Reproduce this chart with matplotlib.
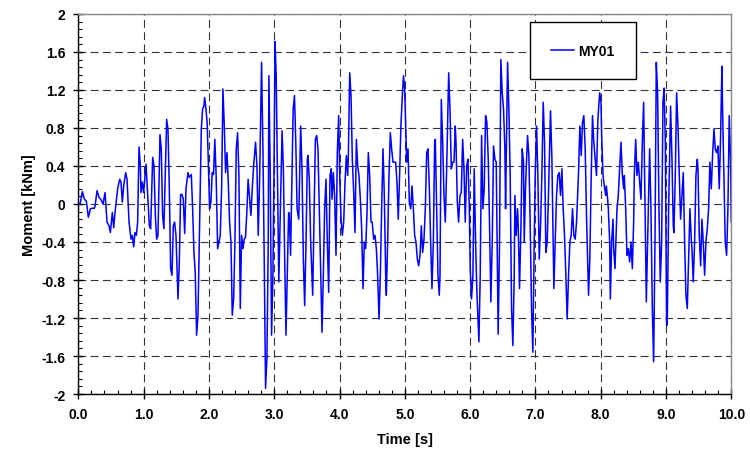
import matplotlib
matplotlib.use("Agg")
import matplotlib.pyplot as plt
from matplotlib.ticker import MultipleLocator

# values (peaks / troughs of the trace)
time_s = [
    0.0, 0.026, 0.061, 0.092, 0.122, 0.153, 0.184, 0.214, 0.245, 0.255,
    0.286, 0.316, 0.347, 0.378, 0.408, 0.439, 0.469, 0.49, 0.52, 0.541,
    0.561, 0.602, 0.633, 0.653, 0.673, 0.694, 0.724, 0.745, 0.776, 0.806,
    0.827, 0.847, 0.867, 0.888, 0.908, 0.929, 0.949, 0.959, 0.98, 1.0,
    1.036, 1.087, 1.107, 1.138, 1.158, 1.179, 1.199, 1.219, 1.25, 1.27,
    1.29, 1.31, 1.33, 1.352, 1.372, 1.393, 1.413, 1.434, 1.454, 1.474,
    1.495, 1.526, 1.546, 1.566, 1.587, 1.607, 1.628, 1.648, 1.679, 1.699,
    1.73, 1.75, 1.77, 1.79, 1.811, 1.832, 1.862, 1.883, 1.903, 1.923,
    1.934, 1.954, 1.972, 1.988,
    2.01, 2.03, 2.05, 2.07, 2.09, 2.11, 2.133, 2.153, 2.173, 2.194,
    2.214, 2.235, 2.255, 2.276, 2.296, 2.316, 2.337, 2.357, 2.378, 2.398,
    2.418, 2.439, 2.459, 2.48, 2.5, 2.52, 2.54, 2.56, 2.58, 2.6,
    2.62, 2.643, 2.663, 2.684, 2.714, 2.735, 2.755, 2.776, 2.806, 2.827,
    2.847, 2.867, 2.888, 2.908, 2.918, 2.939, 2.959, 2.98, 3.0, 3.012,
    3.03, 3.05, 3.07, 3.09, 3.11, 3.12, 3.14, 3.16, 3.18, 3.2,
    3.22, 3.23, 3.25, 3.27, 3.29, 3.31, 3.33, 3.35, 3.375, 3.395,
    3.405, 3.425, 3.446, 3.466, 3.487, 3.507, 3.518, 3.538, 3.558, 3.589,
    3.609, 3.63, 3.65, 3.67, 3.69, 3.711, 3.732, 3.752, 3.772, 3.793,
    3.813, 3.834, 3.854, 3.874, 3.885, 3.905, 3.925, 3.946, 3.966, 3.987,
    4.003, 4.023, 4.043, 4.064, 4.084, 4.105, 4.125, 4.135, 4.156, 4.176,
    4.196, 4.217, 4.237, 4.258, 4.278, 4.298, 4.319, 4.339, 4.36, 4.38,
    4.4, 4.42, 4.441, 4.462, 4.482, 4.5, 4.523, 4.543, 4.564, 4.584,
    4.605, 4.625, 4.645, 4.666, 4.686, 4.707, 4.717, 4.737, 4.758, 4.778,
    4.798, 4.819, 4.839, 4.86, 4.88, 4.9, 4.92, 4.94, 4.962, 4.98,
    4.998, 5.018, 5.029, 5.049, 5.069, 5.09, 5.11, 5.131, 5.151, 5.171,
    5.192, 5.212, 5.233, 5.253, 5.273, 5.294, 5.314, 5.335, 5.355, 5.376,
    5.396, 5.416, 5.437, 5.457, 5.467, 5.488, 5.508, 5.528, 5.539, 5.559,
    5.58, 5.6, 5.62, 5.641, 5.672, 5.692, 5.712, 5.733, 5.753, 5.773,
    5.784, 5.804, 5.824, 5.845, 5.865, 5.886, 5.906, 5.926, 5.947, 5.967,
    5.988,
    6.002, 6.022, 6.043, 6.063, 6.084, 6.104, 6.135, 6.155, 6.176, 6.196,
    6.216, 6.237, 6.257, 6.278, 6.298, 6.318, 6.339, 6.359, 6.38, 6.4,
    6.42, 6.43, 6.451, 6.471, 6.492, 6.512, 6.533, 6.543, 6.563, 6.574,
    6.594, 6.614, 6.635, 6.655, 6.676, 6.686, 6.706, 6.727, 6.737, 6.757,
    6.778, 6.798, 6.818, 6.829, 6.849, 6.88, 6.9, 6.92, 6.941, 6.961,
    6.982, 6.997,
    7.018, 7.038, 7.059, 7.079, 7.099, 7.12, 7.14, 7.16, 7.181, 7.2,
    7.232, 7.253, 7.273, 7.283, 7.304, 7.324, 7.344, 7.365, 7.385, 7.406,
    7.426, 7.446, 7.467, 7.487, 7.508, 7.528, 7.548, 7.569, 7.589, 7.61,
    7.63, 7.661, 7.681, 7.702, 7.722, 7.742, 7.763, 7.783, 7.814, 7.834,
    7.855, 7.875, 7.895, 7.916, 7.936, 7.957, 7.985,
    8.005, 8.015, 8.036, 8.056, 8.077, 8.087, 8.107, 8.117, 8.138, 8.148,
    8.168, 8.189, 8.199, 8.219, 8.24, 8.25, 8.27, 8.291, 8.311, 8.332,
    8.352, 8.362, 8.383, 8.403, 8.423, 8.444, 8.464, 8.485, 8.505, 8.515,
    8.536, 8.556, 8.577, 8.597, 8.617, 8.638, 8.658, 8.679, 8.699, 8.719,
    8.74, 8.75, 8.77, 8.791, 8.811, 8.832, 8.852, 8.872, 8.893, 8.913,
    8.934, 8.954, 8.972, 8.99,
    9.0, 9.01, 9.02, 9.041, 9.061, 9.071, 9.092, 9.112, 9.122, 9.143,
    9.163, 9.184, 9.204, 9.224, 9.245, 9.265, 9.286, 9.306, 9.327, 9.347,
    9.367, 9.388, 9.398, 9.418, 9.439, 9.459, 9.48, 9.49, 9.51, 9.531,
    9.551, 9.571, 9.592, 9.612, 9.633, 9.653, 9.673, 9.694, 9.714, 9.735,
    9.755, 9.776, 9.796, 9.816, 9.837, 9.857, 9.867, 9.888, 9.908, 9.929,
    9.949, 9.969, 9.99, 10.0,
]

moment_knm = [
    0.0, 0.0, 0.13, 0.05, 0.03, -0.14, -0.05, -0.045, -0.045, -0.025,
    0.14, 0.07, 0.045, 0.0, 0.12, -0.19, -0.23, -0.3, -0.09, -0.25,
    -0.09, 0.16, 0.26, 0.23, 0.02, 0.19, 0.33, 0.26, -0.19, -0.37,
    -0.33, -0.45, -0.3, -0.33, -0.19, 0.6, 0.4, 0.12, 0.23, 0.12,
    0.42, -0.23, -0.26, 0.49, 0.40, -0.12, -0.37, -0.33, 0.73, 0.58,
    -0.12, -0.26, 0.30, 0.89, 0.79, 0.16, -0.68, -0.75, -0.23, -0.19,
    -0.33, -1.0, -0.61, 0.1, 0.1, 0.05, -0.31, 0.16, 0.33, 0.28,
    0.31, -0.05, -0.51, -0.72, -1.38, -1.17, 0.02, 0.79, 1.0, 1.03,
    1.12, 1.0, 0.86, 0.5,
    -0.05, 0.02, 0.33, 0.31, 0.68, 0.30, -0.47, -0.40, -0.33, 0.16,
    1.21, 0.82, 0.33, 0.54, 0.23, -0.19, -0.40, -1.17, -1.0, -0.40,
    0.58, 0.75, 0.30, -1.10, -0.33, -0.47, -0.37, -0.35, -0.09, 0.26,
    0.09, -0.12, 0.16, 0.40, 0.65, 0.40, -0.33, 0.26, 1.49, 0.58,
    -0.61, -1.94, -1.63, -0.40, 1.35, 0.30, -1.38, -0.75, 0.65, 1.71,
    1.35, 0.30, -0.82, -0.19, 0.40, 0.77, 0.37, -0.58, -1.38, -0.75,
    -0.09, -0.1, -0.54, 0.23, 1.0, 1.14, 0.65, -0.05, -0.16, 0.47,
    0.82, 0.37, -0.58, -1.07, -0.40, 0.47, 0.51, 0.23, -0.40, -0.96,
    -0.19, 0.68, 0.72, 0.58, -0.05, -0.72, -1.35, -0.75, -0.05, 0.26,
    -0.40, -0.93, 0.30, 0.37, 0.05, 0.33, 0.09, -0.54, 0.54, 0.93,
    0.30, -0.16, -0.33, -0.19, 0.23, 0.51, 0.30, 0.51, 1.38, 1.14,
    0.47, 0.12, -0.30, 0.68, 0.40, 0.30, 0.05, -0.26, -0.89, -0.40,
    -0.47, -0.12, 0.54, 0.30, -0.19, -0.19, -0.37, -0.33, -0.47, -0.75,
    -1.21, -0.75, -0.05, 0.58, 0.09, -0.75, -0.96, -0.40, 0.30, 0.75,
    0.58, 0.44, 0.44, 0.44, 0.23, -0.16, 0.30, 0.82, 1.14, 1.35,
    1.21, 0.72, 0.44, 0.58, 0.02, -0.05, 0.19, -0.05, -0.33, -0.40,
    -0.58, -0.65, -0.54, -0.23, -0.51, -0.37, -0.05, 0.54, 0.58, 0.16,
    -0.40, -0.89, -0.40, 0.65, 0.68, -0.05, -0.75, -0.96, -0.75, 1.10,
    0.65, 0.09, -0.19, 0.37, 1.38, 1.0, 0.37, 0.44, 0.44, 0.82,
    0.65, 0.02, -0.19, 0.09, 0.12, 0.68, 0.37, -0.19, 0.40, 0.47,
    -0.05,
    -0.68, -1.0, -0.75, 0.37, -0.40, -0.93, -1.45, -0.75, 0.72, -0.05,
    0.16, 0.93, 0.86, 0.47, -0.23, -1.03, -0.40, 0.61, 0.47, 0.44,
    -0.75, -1.37, -0.40, 1.52, 1.17, 1.0, 0.58, -0.05, 1.0, 1.49,
    1.0, 0.30, -1.10, -1.49, -0.75, 0.09, -0.33, -0.05, -0.23, -0.89,
    -0.26, 0.58, 0.44, -0.40, 0.19, 0.72, 0.51, -0.19, -1.10, -1.56,
    -0.40, 0.30,
    0.82, 0.30, -0.58, -0.23, 0.30, 1.07, 0.65, -0.51, -0.40, 0.09,
    0.98, 0.47, -0.40, -0.89, -0.40, 0.09, 0.30, 0.33, 0.09, 0.37,
    -0.05, -0.33, -0.75, -1.21, -0.75, -0.40, -0.33, -0.05, -0.33, -0.37,
    -0.19, 0.33, 0.82, 0.51, 0.86, 0.93, 0.58, -0.12, -0.96, -0.58,
    0.30, 0.93, 0.65, 0.47, 0.30, 0.89, 1.17,
    1.07, 0.72, 0.30, 0.19, 0.09, 0.19, 0.05, -0.05, -0.40, -1.0,
    -0.40, -0.16, -0.47, -0.68, -0.23, -0.05, 0.09, 0.37, 0.65, 0.30,
    0.16, 0.30, -0.05, -0.54, -0.47, -0.61, -0.40, -0.68, -0.19, 0.30,
    0.68, 0.30, 0.44, 0.23, 0.05, 0.65, 1.07, -0.05, -1.03, -0.40,
    0.30, 0.58, -0.05, -1.10, -1.66, -0.40, 1.49, 1.17, -0.05, -0.82,
    -0.40, 1.07, 1.22, 0.65,
    -0.40, -1.28, -1.24, -0.05, 0.65, 1.03, 0.47, -0.23, -0.30, 0.30,
    1.17, 0.82, 0.30, -0.16, 0.09, 0.33, -0.40, -0.96, -1.10, -0.58,
    -0.05, -0.37, -0.47, -0.82, -0.40, 0.30, 0.47, 0.37, -0.33, -0.65,
    -0.16, -0.40, -0.75, -0.40, -0.26, -0.05, 0.44, 0.16, 0.51, 0.79,
    0.58, 0.54, 0.61, 0.16, 0.72, 1.45, 1.0, 0.30, -0.40, -0.54,
    -0.05, 0.93, 0.44, -0.19,
]

x_ticks = [0, 1, 2, 3, 4, 5, 6, 7, 8, 9, 10]
x_tick_labels = ["0.0", "1.0", "2.0", "3.0", "4.0", "5.0",
                 "6.0", "7.0", "8.0", "9.0", "10.0"]
y_ticks = [-2, -1.6, -1.2, -0.8, -0.4, 0, 0.4, 0.8, 1.2, 1.6, 2]
y_tick_labels = ["-2", "-1.6", "-1.2", "-0.8", "-0.4", "0",
                 "0.4", "0.8", "1.2", "1.6", "2"]
series_name = "MY01"

plt.rcParams["font.family"] = ["Liberation Sans Narrow", "Liberation Sans", "DejaVu Sans"]
plt.rcParams["font.weight"] = "bold"

fig = plt.figure(figsize=(7.5, 4.52), dpi=100)
ax = fig.add_axes([0.1045, 0.126, 0.8705, 0.841])

ax.plot(time_s, moment_knm, color="#0000ff", lw=1.1, label=series_name)

ax.set_xlim(0, 10)
ax.set_ylim(-2, 2)
ax.set_xticks(x_ticks)
ax.set_xticklabels(x_tick_labels)
ax.set_yticks(y_ticks)
ax.set_yticklabels(y_tick_labels)
ax.xaxis.set_minor_locator(MultipleLocator(0.2))
ax.yaxis.set_minor_locator(MultipleLocator(0.08))

ax.tick_params(which="major", direction="inout", length=7, width=1,
               labelsize=10, pad=6)
ax.tick_params(which="minor", direction="in", length=3, width=0.8)

ax.grid(which="major", color="#333333", lw=0.8, linestyle=(0, (7, 4)))

for side in ["left", "bottom"]:
    ax.spines[side].set_color("black")
    ax.spines[side].set_linewidth(1)
for side in ["top", "right"]:
    ax.spines[side].set_color("#888888")
    ax.spines[side].set_linewidth(1)

ax.set_xlabel("Time [s]", fontsize=10.5, fontweight="bold", labelpad=8)
ax.set_ylabel("Moment [kNm]", fontsize=10.5, fontweight="bold", labelpad=4)

leg = ax.legend(loc="center", bbox_to_anchor=(0.777, 0.886),
                bbox_transform=fig.transFigure, fancybox=False,
                edgecolor="black", borderpad=1.55, handlelength=1.6,
                handletextpad=0.3, prop={"weight": "bold", "size": 10})
leg.get_frame().set_linewidth(1)
leg.get_frame().set_alpha(1)

fig.savefig("out.png", dpi=100)
